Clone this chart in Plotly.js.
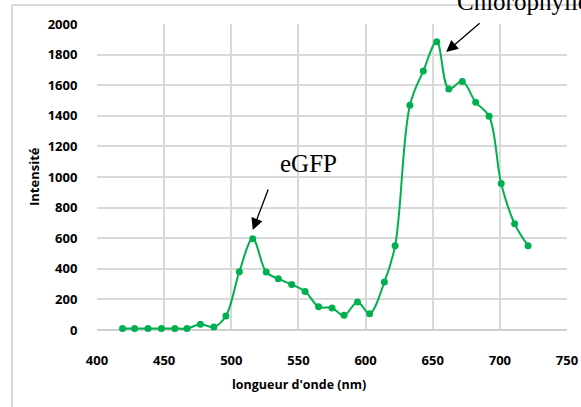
<!DOCTYPE html>
<html>
<head>
<meta charset="utf-8">
<script src="https://cdn.plot.ly/plotly-3.0.1.min.js"></script>
<style>
html,body{margin:0;padding:0;background:#fff;}
#chart{width:581px;height:407px;}
</style>
</head>
<body>
<div id="chart"></div>
<script>
// Data
const wavelength = [419, 428, 438, 448, 458, 467, 477, 487, 496, 506, 516, 526, 535, 545, 555, 565, 575, 584, 594, 603, 614, 622, 633, 643, 653, 662, 672, 682, 692, 701, 711, 721];
const intensity  = [10, 10, 10, 10, 10, 10, 37, 20, 91, 381, 596, 379, 335, 297, 252, 152, 144, 96, 183, 107, 313, 551, 1469, 1693, 1884, 1575, 1625, 1488, 1397, 957, 694, 551];
const xTicks = [400, 450, 500, 550, 600, 650, 700, 750];
const yTicks = [0, 200, 400, 600, 800, 1000, 1200, 1400, 1600, 1800, 2000];

const tickFont = {family: '"Open Sans", sans-serif', size: 13, color: '#000', weight: 'bold'};

const trace = {
  x: wavelength,
  y: intensity,
  type: 'scatter',
  mode: 'lines+markers',
  line: {color: '#00b050', width: 2, shape: 'spline', smoothing: 1},
  marker: {color: '#00b050', size: 7},
  cliponaxis: false,
  hoverinfo: 'skip'
};

const layout = {
  width: 581,
  height: 407,
  margin: {l: 97, r: 14, t: 24, b: 77},
  paper_bgcolor: '#fff',
  plot_bgcolor: '#fff',
  showlegend: false,
  xaxis: {
    range: [400, 750],
    tickmode: 'array',
    tickvals: xTicks,
    ticktext: xTicks.map(String),
    showgrid: true,
    gridcolor: '#d9d9d9',
    gridwidth: 2,
    zeroline: false,
    showline: false,
    ticks: 'outside',
    ticklen: 18,
    tickcolor: 'rgba(0,0,0,0)',
    tickfont: tickFont
  },
  yaxis: {
    range: [0, 2000],
    tickmode: 'array',
    tickvals: yTicks,
    ticktext: yTicks.map(String),
    showgrid: true,
    gridcolor: '#d9d9d9',
    gridwidth: 2,
    zeroline: true,
    zerolinecolor: '#cfcfcf',
    zerolinewidth: 2,
    showline: false,
    ticks: 'outside',
    ticklen: 16,
    tickcolor: 'rgba(0,0,0,0)',
    tickfont: tickFont
  },
  shapes: [
    {type: 'line', xref: 'paper', yref: 'paper', x0: -0.181, x1: -0.181, y0: -0.4, y1: 1.062,
     line: {color: '#d9d9d9', width: 2}},
    {type: 'line', xref: 'paper', yref: 'paper', x0: -0.181, x1: 1.3, y0: 1.062, y1: 1.062,
     line: {color: '#d9d9d9', width: 2}}
  ],
  annotations: [
    {xref: 'paper', yref: 'paper', x: (299 - 97) / 470, y: (330 - 384) / 306,
     xanchor: 'center', yanchor: 'middle', showarrow: false,
     text: "longueur d'onde (nm)",
     font: {family: '"Open Sans", sans-serif', size: 12.5, color: '#000', weight: 'bold'}},
    {xref: 'paper', yref: 'paper', x: (34 - 97) / 470, y: 0.5,
     xanchor: 'center', yanchor: 'middle', showarrow: false, textangle: -90,
     text: 'Intensité',
     font: {family: '"Open Sans", sans-serif', size: 13, color: '#000', weight: 'bold'}},
    {x: 516, y: 653, xref: 'x', yref: 'y', text: '', showarrow: true,
     ax: 16, ay: -42, arrowhead: 2, arrowsize: 1.8, arrowwidth: 1.3, arrowcolor: '#000'},
    {x: 660, y: 1817, xref: 'x', yref: 'y', text: '', showarrow: true,
     ax: 35, ay: -30, arrowhead: 2, arrowsize: 1.8, arrowwidth: 1.3, arrowcolor: '#000'},
    {x: 557.6, y: 1090, xref: 'x', yref: 'y', text: 'eGFP', showarrow: false,
     xanchor: 'center', yanchor: 'middle',
     font: {family: '"Liberation Serif", "Times New Roman", serif', size: 25, color: '#000'}},
    {xref: 'paper', yref: 'paper', x: (455 - 97) / 470, y: (330 - 17) / 306,
     text: 'Chlorophylle', showarrow: false,
     xanchor: 'left', yanchor: 'bottom',
     font: {family: '"Liberation Serif", "Times New Roman", serif', size: 25, color: '#000'}}
  ]
};

Plotly.newPlot('chart', [trace], layout, {staticPlot: true, displayModeBar: false});
</script>
</body>
</html>
